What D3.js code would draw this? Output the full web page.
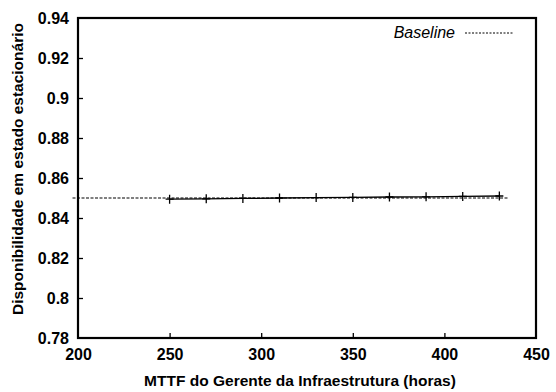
<!DOCTYPE html>
<html>
<head>
<meta charset="utf-8">
<script src="https://cdn.jsdelivr.net/npm/d3@7"></script>
<style>
  body { margin: 0; background: #fff; }
  text { font-family: "Liberation Sans", Arial, sans-serif; }
</style>
</head>
<body>
<script>
width  = 556
height = 392

// series
var mttf = [250, 270, 290, 310, 330, 350, 370, 390, 410, 430];
var disponibilidade = [0.8494, 0.8496, 0.8498, 0.8500, 0.8502, 0.8503, 0.8505, 0.8506, 0.8508, 0.8510];
var baselineX = [197, 435];
var baselineY = [0.85, 0.85];
var xTicks = [200, 250, 300, 350, 400, 450];
var yTicks = [0.78, 0.8, 0.82, 0.84, 0.86, 0.88, 0.9, 0.92, 0.94];

var margin = {left: 78, right: 20, top: 18, bottom: 54};

var x = d3.scaleLinear().domain([200, 450]).range([margin.left, width - margin.right]);
var y = d3.scaleLinear().domain([0.78, 0.94]).range([height - margin.bottom, margin.top]);

const svg = d3.select('body').append('svg')
  .attr('width', width)
  .attr('height', height);

var line = d3.line().x(d => x(d[0])).y(d => y(d[1]));

// baseline (dashed)
svg.append("path")
  .datum(baselineX.map((v, i) => [v, baselineY[i]]))
  .attr("d", line)
  .attr("fill", "none")
  .attr("stroke", "#000")
  .attr("stroke-width", 1.2)
  .attr("stroke-dasharray", "3,1.5");

// main series
var pts = mttf.map((v, i) => [v, disponibilidade[i]]);
svg.append("path")
  .datum(pts)
  .attr("d", line)
  .attr("fill", "none")
  .attr("stroke", "#000")
  .attr("stroke-width", 1.3);

svg.append("g").selectAll("path")
  .data(pts)
  .enter().append("path")
    .attr("d", "M-4,0H4M0,-4.5V4.5")
    .attr("transform", d => `translate(${x(d[0])},${y(d[1])})`)
    .attr("stroke", "#000")
    .attr("stroke-width", 1.3)
    .attr("fill", "none");

// axes
var xAxis = d3.axisBottom(x).tickValues(xTicks).tickSizeInner(-5).tickSizeOuter(0).tickPadding(10)
  .tickFormat(d3.format("d"));
var yAxis = d3.axisLeft(y).tickValues(yTicks).tickSizeInner(-5).tickSizeOuter(0).tickPadding(9)
  .tickFormat(d => d3.format("")(+d.toFixed(2)));

var gx = svg.append("g")
  .attr("transform", `translate(0,${height - margin.bottom})`)
  .call(xAxis);
var gy = svg.append("g")
  .attr("transform", `translate(${margin.left},0)`)
  .call(yAxis);

[gx, gy].forEach(g => {
  g.select(".domain").remove();
  g.selectAll("line").attr("stroke", "#000").attr("stroke-width", 1.3);
  g.selectAll("text")
    .attr("fill", "#000")
    .style("font-size", "16px")
    .style("font-weight", "bold");
});
gx.selectAll(".tick").filter(d => d == 200 || d == 450).select("line").remove();
gy.selectAll(".tick").filter(d => d == 0.78 || d == 0.94).select("line").remove();
gy.selectAll("text").attr("dy", "0.35em");
gx.selectAll("text").attr("dy", "0.72em");

// frame
svg.append("rect")
  .attr("x", margin.left)
  .attr("y", margin.top)
  .attr("width", width - margin.left - margin.right)
  .attr("height", height - margin.top - margin.bottom)
  .attr("fill", "none")
  .attr("stroke", "#000")
  .attr("stroke-width", 2.2);

// axis titles
svg.append("text")
  .attr("x", 300)
  .attr("y", 386)
  .attr("text-anchor", "middle")
  .style("font-size", "15.5px")
  .style("font-weight", "bold")
  .text("MTTF do Gerente da Infraestrutura (horas)");

svg.append("text")
  .attr("transform", `translate(23,169) rotate(-90)`)
  .attr("text-anchor", "middle")
  .style("font-size", "15.5px")
  .style("font-weight", "bold")
  .text("Disponibilidade em estado estacionário");

// legend
svg.append("text")
  .attr("x", 455)
  .attr("y", 38)
  .attr("text-anchor", "end")
  .style("font-size", "16px")
  .style("font-style", "italic")
  .text("Baseline");
svg.append("line")
  .attr("x1", 465).attr("x2", 514)
  .attr("y1", 33).attr("y2", 33)
  .attr("stroke", "#000")
  .attr("stroke-width", 1)
  .attr("stroke-dasharray", "2,1.5");
</script>
</body>
</html>
